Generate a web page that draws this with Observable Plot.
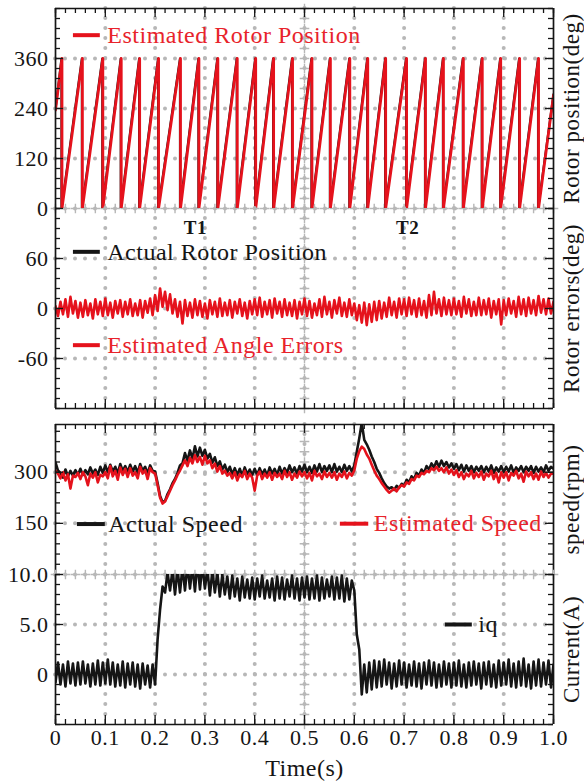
<!DOCTYPE html>
<html><head><meta charset="utf-8">
<script src="https://cdn.jsdelivr.net/npm/d3@7"></script>
<script src="https://cdn.jsdelivr.net/npm/@observablehq/plot@0.6"></script>
<style>
body{margin:0;background:#fff;}
#chart{position:relative;width:584px;height:783px;overflow:hidden;background:#fff;}
#chart svg{position:absolute;left:0;overflow:visible;}
#chart text{letter-spacing:0.5px;}
</style></head><body><div id="chart"></div>
<script>
// ---------- data ----------
const timeStep = 0.005; // sampling of the noisy traces (s)
const xTickValues = [0,0.1,0.2,0.3,0.4,0.5,0.6,0.7,0.8,0.9,1.0];
const xTickLabels = ["0","0.1","0.2","0.3","0.4","0.5","0.6","0.7","0.8","0.9","1.0"];
const posTickValues = [0,120,240,360];
const posTickLabels = ["0","120","240","360"];
const errTickValues = [-60,0,60];
const errTickLabels = ["-60","0","60"];
const speedTickValues = [150,300];
const speedTickLabels = ["150","300"];
const currentTickValues = [0,5,10];
const currentTickLabels = ["0","5.0","10.0"];

// rotor position sawtooth: times where the angle wraps 360 -> 0
const estPeakTimes = [0.013,0.054,0.095,0.132,0.169,0.207,0.251,0.288,0.326,0.365,0.402,0.438,0.476,0.515,0.552,0.591,0.627,0.663,0.705,0.743,0.779,0.819,0.857,0.894,0.932,0.970];
const actPeakTimes = [0.012,0.053,0.094,0.131,0.168,0.206,0.250,0.287,0.325,0.364,0.401,0.437,0.475,0.514,0.551,0.590,0.626,0.662,0.704,0.742,0.778,0.818,0.856,0.893,0.931,0.969];
const estPosStart = 236, estPosEnd = 272;
const actPosStart = 238, actPosEnd = 274;

// angle error (deg), every 5 ms
const angleErrors = [
 3,-9,8,-7,11,-10,14,-6,9,-11,
 7,-10,10,-8,6,-12,11,-7,8,-9,
 12,-8,7,-11,9,-6,10,-10,8,-7,
 11,-9,6,-8,10,-11,9,-5,12,-8,
 16,-3,24,2,20,-2,17,-6,11,-10,
 8,-18,10,-9,7,-11,11,-8,9,-10,
 6,-12,10,-7,8,-10,12,-9,7,-8,
 10,-11,8,-6,11,-9,7,-12,9,-7,
 11,-8,13,-10,8,-7,10,-11,12,-6,
 8,-10,11,-8,7,-9,10,-12,8,-7,
 12,-9,9,-11,6,-8,11,-10,14,-7,
 8,-11,10,-6,13,-9,7,-10,11,-8,
 6,-14,4,-17,7,-20,5,-16,8,-14,
 9,-12,7,-10,13,-8,8,-11,12,-7,
 11,-9,13,-7,10,-10,12,-8,9,-11,
 16,-8,20,-6,11,-9,13,-7,10,-8,
 12,-7,9,-10,14,-6,11,-9,8,-8,
 13,-8,10,-7,12,-11,9,-7,11,-19,
 10,-8,12,-6,9,-10,14,-7,11,-9,
 13,-6,10,-8,15,-5,11,-7,12,-6,
 8];

// speed (rpm), every 5 ms
const actualSpeed = [
 329,305,298,284,308,288,304,290,306,292,
 310,292,306,294,314,296,308,292,316,298,
 320,300,322,302,316,296,324,304,318,300,
 322,302,318,298,324,304,316,296,320,304,
 302,268,230,212,216,236,250,268,280,298,
 320,326,356,334,364,340,376,346,372,348,
 366,340,354,328,344,318,332,308,322,300,
 316,294,312,292,310,290,314,294,308,292,
 310,292,312,294,308,290,314,296,310,292,
 316,296,312,298,320,300,314,296,318,302,
 322,300,316,298,320,302,324,300,318,304,
 320,300,324,302,316,300,322,304,318,302,
 320,360,400,445,395,382,366,346,330,310,
 298,282,268,258,252,256,248,260,254,266,
 260,278,270,288,280,298,290,308,298,318,
 308,326,314,332,316,334,318,330,314,326,
 310,324,306,322,302,320,304,318,300,316,
 304,318,300,316,302,320,298,314,302,318,
 300,316,302,320,298,314,304,318,300,316,
 304,318,298,316,302,314,300,320,304,316,
 310];
const estimatedSpeed = [
 305,296,282,300,276,294,252,290,286,298,
 280,300,288,262,296,284,300,270,292,288,
 300,282,318,288,304,278,314,292,310,286,
 312,290,300,282,316,296,306,280,312,300,
 296,262,225,208,214,230,246,262,276,292,
 305,320,335,318,342,326,350,330,345,322,
 348,326,335,312,325,302,318,296,305,290,
 298,282,300,276,294,286,304,280,296,284,
 246,290,302,280,296,284,300,278,298,286,
 296,280,304,286,300,278,296,284,302,288,
 300,282,298,276,304,288,296,280,302,286,
 298,284,300,278,296,286,302,282,298,290,
 305,340,362,375,368,352,340,322,305,290,
 280,268,258,248,240,246,252,244,256,262,
 258,270,266,280,276,290,286,298,294,304,
 300,312,306,316,304,312,300,314,296,308,
 292,306,286,300,280,296,288,304,282,298,
 286,302,278,296,288,304,280,298,270,300,
 284,300,276,298,290,304,282,296,272,302,
 288,300,280,296,278,302,286,298,284,296,
 296];

// q-axis current (A), every 5 ms
const iqCurrent = [
 -0.8,1.2,-1.0,1.0,-1.2,1.3,-0.9,1.1,-1.1,1.2,
 -1.0,1.3,-0.9,1.0,-1.2,1.1,-1.0,1.4,-1.1,1.2,
 -0.9,1.5,-1.0,1.2,-1.2,1.0,-1.1,1.3,-1.3,1.1,
 -1.0,1.2,-1.2,1.0,-1.4,1.1,-1.0,0.9,-1.3,1.0,
 -1.0,3.5,6.5,8.8,8.2,10.2,8.4,10.5,8.0,10.6,
 8.2,10.8,8.4,11.0,8.6,10.9,8.3,11.3,8.5,11.0,
 8.6,10.6,7.9,10.4,8.2,10.2,7.8,10.0,8.0,9.8,
 7.6,9.9,7.8,9.6,7.4,9.8,7.7,9.5,7.6,9.7,
 7.5,9.6,7.8,9.9,7.6,9.4,7.7,9.6,7.4,9.8,
 7.6,9.7,7.5,9.5,7.8,9.9,7.6,9.6,7.4,9.7,
 7.7,9.8,7.5,9.6,7.6,9.9,7.4,9.7,7.6,9.5,
 7.8,9.8,7.5,9.7,7.6,9.9,7.3,9.6,7.5,9.4,
 8.4,4.0,2.5,-2.0,1.0,-1.8,1.2,-1.5,1.4,-1.3,
 1.3,-1.2,1.5,-1.0,1.2,-1.4,1.1,-1.2,1.4,-1.0,
 1.2,-1.3,1.0,-1.1,1.3,-1.2,1.1,-1.4,1.2,-1.0,
 1.4,-1.1,1.2,-1.3,1.0,-1.2,1.3,-1.0,1.1,-1.3,
 1.2,-1.1,1.4,-1.2,1.0,-1.3,1.2,-1.1,1.3,-1.0,
 1.1,-1.4,1.2,-1.0,1.3,-1.2,1.0,-1.3,1.4,-1.1,
 1.2,-1.0,1.5,-1.2,1.1,-1.3,1.3,-1.1,1.6,-1.2,
 1.0,-1.4,1.3,-1.1,1.5,-1.2,1.2,-1.0,1.4,-1.3,
 1.0];

const legendEstPos = "Estimated Rotor Position";
const legendActPos = "Actual Rotor Position";
const legendErr = "Estimated Angle Errors";
const legendActSpeed = "Actual Speed";
const legendEstSpeed = "Estimated Speed";
const legendIq = "iq";
const eventLabels = ["T1","T2"];
const yTitles = ["Rotor position(deg)","Rotor errors(deg)","speed(rpm)","Current(A)"];
const xTitle = "Time(s)";

// ---------- build tables ----------
const series = arr => arr.map((v, i) => ({t: i * timeStep, v}));
function sawtooth(peaks, start, end) {
  const pts = [{t: 0, v: start}];
  for (const p of peaks) pts.push({t: p, v: 360}, {t: p, v: 0});
  pts.push({t: 1, v: end});
  return pts;
}
const estPos = sawtooth(estPeakTimes, estPosStart, estPosEnd);
const actPos = sawtooth(actPeakTimes, actPosStart, actPosEnd);
const errData = series(angleErrors);
const actSpd = series(actualSpeed);
const estSpd = series(estimatedSpeed);
const iqData = series(iqCurrent);

// ---------- styling ----------
const W = 584, ML = 55, MR = 31, PW = W - ML - MR;
const RED = "#e5121c", RED_TXT = "#e8232b", INK = "#151515", GREY = "#b7b7b7";
const GRID = {stroke: GREY, strokeWidth: 4, strokeDasharray: "0,10", strokeLinecap: "round"};
const FONT = "'Liberation Serif', 'Times New Roman', serif";
const xMinor = d3.range(51).map(i => i / 50);
const xGrid = xTickValues.slice(1, -1);

function panel({top, h, mb = 0, yDomain, minorY, ticks, labels, gridY, topEdge, bottomEdge, cross, title, marks}) {
  const fmt = d => labels[ticks.indexOf(d)];
  const m = [
    Plot.ruleX(xGrid, GRID),
    Plot.ruleY(gridY, GRID),
    Plot.dot(minorY, {x: 0.5, y: d => d, symbol: "plus", r: 3.2, stroke: GREY, strokeWidth: 1.4}),
  ];
  if (cross !== undefined) m.push(Plot.dot(xMinor, {x: d => d, y: cross, symbol: "plus", r: 3.2, stroke: GREY, strokeWidth: 1.4}));
  m.push(...marks);
  const tk = {stroke: INK, strokeWidth: 1.3};
  m.push(
    Plot.tickY(minorY, {y: d => d, insetRight: PW - 5, ...tk}),
    Plot.tickY(minorY, {y: d => d, insetLeft: PW - 5, ...tk}),
    Plot.tickY(ticks, {y: d => d, insetRight: PW - 8, ...tk}),
    Plot.tickY(ticks, {y: d => d, insetLeft: PW - 8, ...tk}),
    Plot.ruleX([0, 1], {stroke: INK, strokeWidth: 1.7})
  );
  if (topEdge) m.push(
    Plot.tickX(xMinor, {x: d => d, insetBottom: h - 5, ...tk}),
    Plot.tickX(xTickValues, {x: d => d, insetBottom: h - 9, ...tk}),
    Plot.ruleY([yDomain[1]], {stroke: INK, strokeWidth: 1.7})
  );
  if (bottomEdge) m.push(
    Plot.tickX(xMinor, {x: d => d, insetTop: h - 5, ...tk}),
    Plot.tickX(xTickValues, {x: d => d, insetTop: h - 9, ...tk}),
    Plot.ruleY([yDomain[0]], {stroke: INK, strokeWidth: 1.7})
  );
  m.push(
    Plot.axisY({ticks, anchor: "left", tickSize: 0, tickPadding: 7, tickFormat: fmt, label: null, fill: INK}),
    Plot.text([title], {frameAnchor: "right", textAnchor: "middle", lineAnchor: "middle", rotate: -90, dx: 18, text: d => d, fontSize: 23, fill: INK})
  );
  const svg = Plot.plot({
    width: W, height: h + mb, marginLeft: ML, marginRight: MR, marginTop: 0, marginBottom: mb,
    x: {domain: [0, 1], axis: null},
    y: {domain: yDomain},
    style: {fontFamily: FONT, fontSize: "22px", color: INK, background: "transparent", overflow: "visible"},
    marks: m
  });
  svg.style.top = top + "px";
  document.getElementById("chart").appendChild(svg);
}

const legend = (label, x1, x2, xt, y, color, tcolor) => [
  Plot.ruleY([y], {x1, x2, stroke: color, strokeWidth: 4}),
  Plot.text([label], {x: xt, y, text: d => d, textAnchor: "start", fill: tcolor, fontSize: 24})
];

// Panel 1: rotor position
panel({
  top: 8, h: 200, yDomain: [0, 480], minorY: d3.range(0, 481, 24),
  ticks: posTickValues, labels: posTickLabels, gridY: posTickValues,
  topEdge: true, cross: 0, title: yTitles[0],
  marks: [
    Plot.line(actPos, {x: "t", y: "v", stroke: INK, strokeWidth: 2.2, clip: true}),
    Plot.line(estPos, {x: "t", y: "v", stroke: RED, strokeWidth: 2.8, clip: true}),
    ...legend(legendEstPos, 0.036, 0.09, 0.104, 416, RED, RED_TXT)
  ]
});
// Panel 2: rotor angle errors
panel({
  top: 208, h: 200, yDomain: [-120, 120], minorY: d3.range(-120, 121, 12),
  ticks: errTickValues, labels: errTickLabels, gridY: errTickValues,
  bottomEdge: true, title: yTitles[1],
  marks: [
    Plot.line(errData, {x: "t", y: "v", stroke: RED, strokeWidth: 2.6, clip: true}),
    ...legend(legendActPos, 0.036, 0.09, 0.104, 68, INK, INK),
    ...legend(legendErr, 0.036, 0.09, 0.104, -44, RED, RED_TXT),
    Plot.text(eventLabels, {x: [0.281, 0.707], y: [97, 97], text: d => d, fontWeight: "bold", fontSize: 19, fill: INK})
  ]
});
// Panel 3: speed
panel({
  top: 424, h: 150, yDomain: [0, 440], minorY: d3.range(0, 441, 30),
  ticks: speedTickValues, labels: speedTickLabels, gridY: speedTickValues,
  topEdge: true, title: yTitles[2],
  marks: [
    Plot.line(actSpd, {x: "t", y: "v", stroke: INK, strokeWidth: 2.6, clip: true}),
    Plot.line(estSpd, {x: "t", y: "v", stroke: RED, strokeWidth: 2.6, clip: true}),
    ...legend(legendActSpeed, 0.044, 0.1, 0.106, 148, INK, INK),
    ...legend(legendEstSpeed, 0.572, 0.629, 0.639, 149, RED, RED_TXT)
  ]
});
// Panel 4: current
panel({
  top: 574, h: 150, mb: 59, yDomain: [-5, 10], minorY: d3.range(-5, 11, 1),
  ticks: currentTickValues, labels: currentTickLabels, gridY: currentTickValues,
  bottomEdge: true, cross: 10, title: yTitles[3],
  marks: [
    Plot.line(iqData, {x: "t", y: "v", stroke: INK, strokeWidth: 2.6, clip: true}),
    ...legend(legendIq, 0.783, 0.837, 0.849, 5, INK, INK),
    Plot.axisX({ticks: xTickValues, anchor: "bottom", tickSize: 0, tickPadding: 5, tickFormat: d => xTickLabels[xTickValues.indexOf(d)], label: null, fill: INK}),
    Plot.text([xTitle], {frameAnchor: "bottom", lineAnchor: "bottom", dy: 51, text: d => d, fontSize: 24, fill: INK})
  ]
});
</script></body></html>
